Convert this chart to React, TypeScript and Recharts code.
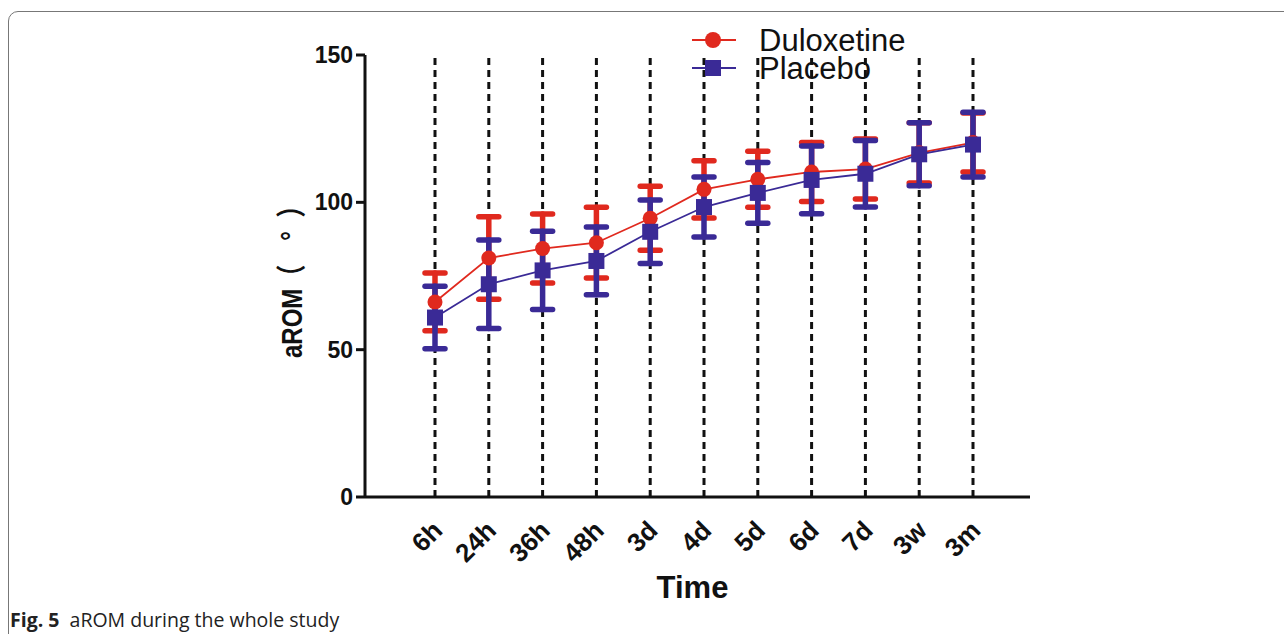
import React from 'react';
import { LineChart, Line, XAxis, YAxis, ErrorBar, ReferenceLine } from 'recharts';

const categories = ['6h', '24h', '36h', '48h', '3d', '4d', '5d', '6d', '7d', '3w', '3m'];
const duloxetine = [66.2, 81.1, 84.3, 86.3, 94.6, 104.4, 107.8, 110.3, 111.3, 116.8, 120.3];
const duloxetineErr = [9.8, 14, 11.7, 12, 10.9, 9.7, 9.5, 10, 10.2, 10.2, 10];
const placebo = [60.9, 72.2, 76.9, 80.1, 90.0, 98.4, 103.2, 107.6, 109.7, 116.3, 119.6];
const placeboErr = [10.6, 15, 13.3, 11.5, 10.8, 10.2, 10.3, 11.5, 11.3, 10.7, 11];
const yTicks = [0, 50, 100, 150];
const seriesNames = ['Duloxetine', 'Placebo'];

const RED = '#e0291e';
const BLUE = '#3a2a96';
const FONT = 'Liberation Sans, Arial, sans-serif';

const data = categories.map((c, i) => ({
  time: c,
  dul: duloxetine[i],
  dulErr: duloxetineErr[i],
  pla: placebo[i],
  plaErr: placeboErr[i],
}));

const XTick = (props: any) => {
  const { x, y, payload } = props;
  const tx = x + 9;
  const ty = y + 27;
  return (
    <text
      x={tx}
      y={ty}
      transform={`rotate(-45, ${tx}, ${ty})`}
      textAnchor="end"
      fontFamily={FONT}
      fontWeight="bold"
      fontSize={26}
      fill="#111"
    >
      {payload.value}
    </text>
  );
};

const YLabel = () => {
  const sx = 302;
  const sy = 358;
  return (
    <text
      transform={`translate(${sx}, ${sy}) rotate(-90) scale(0.8, 1)`}
      x={0}
      y={0}
      textAnchor="start"
      fontFamily={`${FONT}, 'Noto Sans CJK SC'`}
      fontWeight="bold"
      fontSize={30}
      fill="#111"
    >
      <tspan>aROM</tspan>
      <tspan fontFamily="'Noto Sans CJK SC'">（</tspan>
      <tspan dx={30}>°</tspan>
      <tspan dx={17} fontFamily="'Noto Sans CJK SC'">）</tspan>
    </text>
  );
};

const XLabel = (props: any) => {
  const { viewBox } = props;
  const cx = viewBox.x + viewBox.width / 2 - 5;
  return (
    <text x={cx} y={598} textAnchor="middle" fontFamily={FONT} fontWeight="bold" fontSize={31} fill="#111">
      Time
    </text>
  );
};

const RedDot = (props: any) => {
  const { cx, cy, index } = props;
  return <circle key={`r${index}`} cx={cx} cy={cy} r={7.5} fill={RED} />;
};

const BlueDot = (props: any) => {
  const { cx, cy, index } = props;
  return <rect key={`b${index}`} x={cx - 8} y={cy - 8} width={16} height={16} fill={BLUE} />;
};

export default function App() {
  return (
    <div style={{ position: 'absolute', left: 0, top: 0, width: 1284, height: 634, background: '#fff', overflow: 'hidden' }}>
      <div
        style={{
          position: 'absolute',
          left: 8,
          top: 11,
          width: 1290,
          height: 720,
          border: '1px solid #777',
          borderRadius: 10,
        }}
      />
      <div style={{ position: 'absolute', left: 0, top: 0 }}>
        <LineChart
          width={1284}
          height={634}
          data={data}
          margin={{ top: 55, right: 254, bottom: 77, left: 285 }}
        >
          {categories.map((c) => (
            <ReferenceLine
              key={c}
              x={c}
              stroke="#111"
              strokeWidth={3}
              strokeDasharray="7 5"
            />
          ))}
          <XAxis
            dataKey="time"
            scale="point"
            padding={{ left: 70, right: 57 }}
            height={60}
            tickLine={false}
            axisLine={{ stroke: '#111', strokeWidth: 3 }}
            tick={<XTick />}
            interval={0}
            label={<XLabel />}
          />
          <YAxis
            domain={[0, 150]}
            ticks={yTicks}
            width={80}
            tickSize={9}
            tickLine={{ stroke: '#111', strokeWidth: 3 }}
            axisLine={{ stroke: '#111', strokeWidth: 3 }}
            tick={{ fill: '#111', fontSize: 23, fontWeight: 'bold', fontFamily: FONT }}
            tickMargin={3}
            label={<YLabel />}
          />
          <Line
            dataKey="dul"
            stroke={RED}
            strokeWidth={1.8}
            dot={RedDot}
            activeDot={false}
            isAnimationActive={false}
          >
            <ErrorBar dataKey="dulErr" width={10} stroke={RED} strokeWidth={5.5} strokeLinecap="round" direction="y" />
          </Line>
          <Line
            dataKey="pla"
            stroke={BLUE}
            strokeWidth={1.8}
            dot={BlueDot}
            activeDot={false}
            isAnimationActive={false}
          >
            <ErrorBar dataKey="plaErr" width={10} stroke={BLUE} strokeWidth={5.5} strokeLinecap="round" direction="y" />
          </Line>
        </LineChart>
      </div>
      <svg style={{ position: 'absolute', left: 0, top: 0 }} width={1284} height={634}>
        <g>
          <line x1={692} y1={40} x2={736} y2={40} stroke={RED} strokeWidth={2} />
          <circle cx={713} cy={40} r={8} fill={RED} />
          <text x={759} y={51} fontFamily={FONT} fontSize={31} fill="#111">
            {seriesNames[0]}
          </text>
          <line x1={692} y1={68} x2={736} y2={68} stroke={BLUE} strokeWidth={2} />
          <rect x={705} y={60} width={16} height={16} fill={BLUE} />
          <text x={759} y={79} fontFamily={FONT} fontSize={31} fill="#111">
            {seriesNames[1]}
          </text>
        </g>
      </svg>
      <div
        style={{
          position: 'absolute',
          left: 10,
          top: 606,
          fontFamily: "'Open Sans', sans-serif",
          fontSize: 19.5,
          color: '#222',
          whiteSpace: 'nowrap',
        }}
      >
        <b>Fig. 5</b>&nbsp;&nbsp;aROM during the whole study
      </div>
    </div>
  );
}
